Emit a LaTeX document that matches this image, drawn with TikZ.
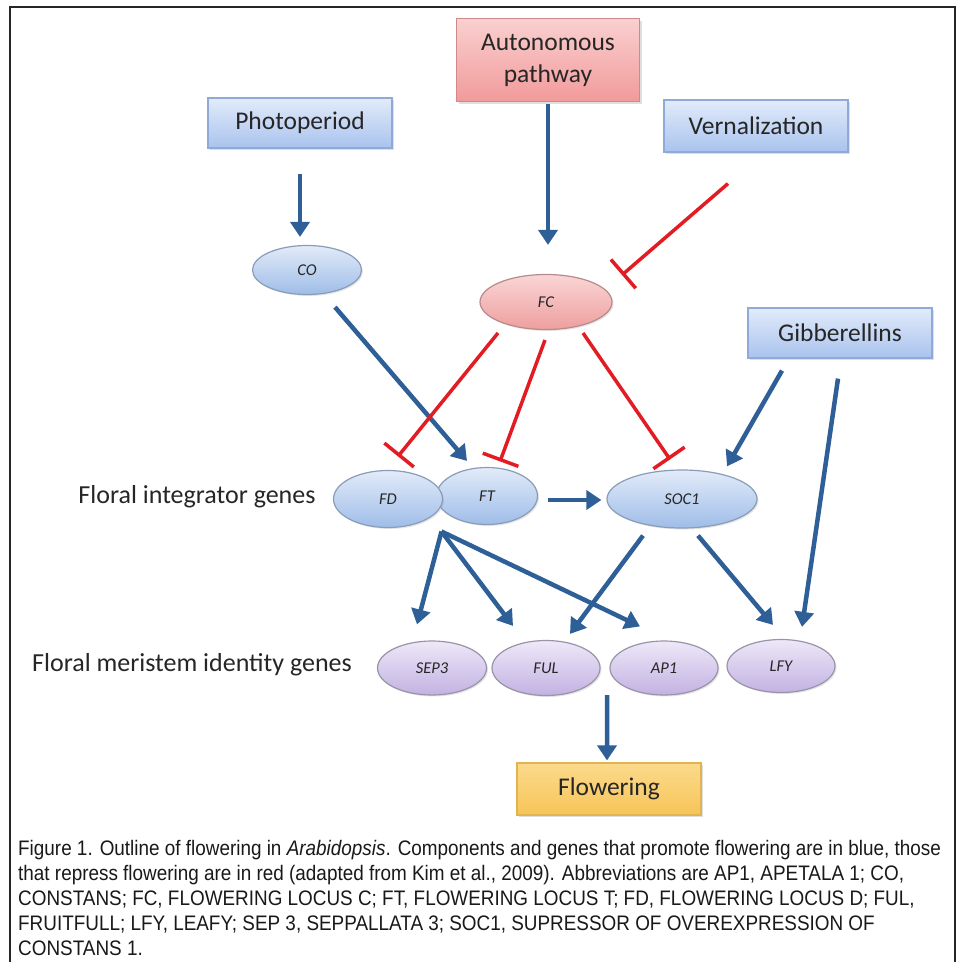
\documentclass[tikz,border=0pt]{standalone}
\usepackage{fontspec}
\setmainfont{Carlito}
\newfontfamily\capfont[FakeStretch=0.9]{Liberation Sans}
\usetikzlibrary{shapes.geometric,arrows.meta,calc,shadows}
\definecolor{bbtop}{HTML}{E2EBFA}
\definecolor{bbbot}{HTML}{A9C3EE}
\definecolor{bbdraw}{HTML}{8FAAD6}
\definecolor{rbtop}{HTML}{FAD0D0}
\definecolor{rbbot}{HTML}{F29A9A}
\definecolor{rbdraw}{HTML}{D08888}
\definecolor{gbtop}{HTML}{E2EBF9}
\definecolor{gbbot}{HTML}{9FBDE8}
\definecolor{gbdraw}{HTML}{8A9DB8}
\definecolor{grtop}{HTML}{FAD6D6}
\definecolor{grbot}{HTML}{EE9E9E}
\definecolor{grdraw}{HTML}{B88A8A}
\definecolor{gptop}{HTML}{EEE8F8}
\definecolor{gpbot}{HTML}{C2B2E2}
\definecolor{gpdraw}{HTML}{9A94A8}
\definecolor{fltop}{HTML}{FBDA8C}
\definecolor{flbot}{HTML}{F7C558}
\definecolor{fldraw}{HTML}{E2B450}
\definecolor{arrblue}{HTML}{2E5F97}
\definecolor{inhred}{HTML}{E31C23}
\definecolor{txt}{HTML}{262626}
\begin{document}
\begin{tikzpicture}[x=1pt,y=-1pt,
  boxbase/.style={rectangle, inner sep=0pt, line width=1.2pt, text=txt,
    font=\fontsize{25.5}{32}\selectfont, align=center,
    drop shadow={opacity=0.25, shadow xshift=2pt, shadow yshift=-2pt}},
  bluebox/.style={boxbase, draw=bbdraw, top color=bbtop, bottom color=bbbot,
    minimum width=184pt, minimum height=50pt},
  redbox/.style={boxbase, draw=rbdraw, top color=rbtop, bottom color=rbbot,
    minimum width=183pt, minimum height=83pt},
  flowbox/.style={boxbase, draw=fldraw, top color=fltop, bottom color=flbot,
    minimum width=184pt, minimum height=52pt},
  gene/.style={ellipse, inner sep=0pt, line width=1.2pt, text=txt,
    font=\fontsize{16.5}{20}\selectfont\itshape,
    drop shadow={opacity=0.2, shadow xshift=1.5pt, shadow yshift=-1.5pt}},
  bgene/.style={gene, draw=gbdraw, top color=gbtop, bottom color=gbbot},
  rgene/.style={gene, draw=grdraw, top color=grtop, bottom color=grbot},
  pgene/.style={gene, draw=gpdraw, top color=gptop, bottom color=gpbot},
  lvl/.style={text=txt, font=\fontsize{26}{32}\selectfont, inner sep=0pt},
  arr/.style={draw=arrblue, line width=4.5pt, -{Triangle[width=19pt,length=15pt]}},
  inh/.style={draw=inhred, line width=3.5pt, -{Bar[width=38pt]}}
]
\useasboundingbox (0,0) rectangle (962,962);
\fill[white] (0,0) rectangle (962,962);
\draw[line width=2pt, color=black!85] (10,980) -- (10,7) -- (955,7) -- (955,980);

% boxes
\node[redbox] (auton) at (548,60) {Autonomous\\pathway};
\node[bluebox] (photo) at (300,123) {Photoperiod};
\node[bluebox, minimum height=52pt] (vern) at (756,126) {Vernalization};
\node[bluebox] (gibb) at (840,333) {Gibberellins};
\node[flowbox] (flow) at (609,789) {Flowering};

% genes
\node[bgene, minimum width=109pt, minimum height=49pt] (co) at (307,270) {CO};
\node[rgene, minimum width=132pt, minimum height=55pt] (fc) at (546,302) {FC};
\node[bgene, minimum width=101pt, minimum height=57pt] (ft) at (487,496) {FT};
\node[bgene, minimum width=109pt, minimum height=57pt] (fd) at (388,499) {FD};
\node[bgene, minimum width=150pt, minimum height=58pt] (soc) at (682,499) {SOC1};
\node[pgene, minimum width=109pt, minimum height=54pt] (sep) at (432,668) {SEP3};
\node[pgene, minimum width=108pt, minimum height=55pt] (ful) at (546,668) {FUL};
\node[pgene, minimum width=108pt, minimum height=54pt] (ap) at (664,668) {AP1};
\node[pgene, minimum width=108pt, minimum height=53pt] (lfy) at (781,666) {LFY};

% level labels
\node[lvl] (lab1) at (197,497) {Floral integrator genes};
\node[lvl] (lab2) at (192,665) {Floral meristem identity genes};

% promoting arrows
\draw[arr] ($(photo.south)+(0,25)$) -- ($(co.north)+(-7,-8)$);
\draw[arr] ($(auton.south)+(0,2)$) -- ($(fc.north)+(2,-29)$);
\draw[arr] ($(co.south)+(28,12)$) -- ($(ft.north)+(-20,-6)$);
\draw[arr] ($(ft.east)+(10,4)$) -- ($(soc.west)+(-5,1)$);
\draw[arr] ($(gibb.south)+(-58,12)$) -- ($(soc.north)+(45,-3)$);
\draw[arr] ($(gibb.south)+(-2,20)$) -- ($(lfy.north)+(21,-12)$);
\coordinate (j) at ($(fd.east)!0.5!(ft.west)+(2,34)$);
\draw[arr] (j) -- ($(sep.north)+(-15,-16)$);
\draw[arr] (j) -- ($(ful.north)+(-33,-14)$);
\draw[arr] (j) -- ($(ap.north)+(-24,-14)$);
\draw[arr] ($(soc.south)+(-39,7)$) -- ($(ful.north)+(24,-6)$);
\draw[arr] ($(soc.south)+(16,7)$) -- ($(lfy.north)+(-8,-14)$);
\coordinate (k) at ($(ful.east)!0.5!(ap.west)+(2,27)$);
\draw[arr] (k) -- ($(flow.north)+(-2,-2)$);

% repressing connectors
\draw[inh] ($(vern.south)+(-28,31)$) -- ($(fc.center)+(76,-27)$);
\draw[inh] ($(fc.center)+(-48,31)$) -- ($(fd.north)+(10,-13.5)$);
\draw[inh] ($(fc.center)+(-1,38)$) -- ($(ft.north)+(13,-5.5)$);
\draw[inh] ($(fc.center)+(37,31)$) -- ($(soc.north)+(-12,-10)$);

% caption
\node[anchor=north west, inner sep=0pt, align=left, text=black!90,
  font=\capfont\fontsize{21}{25}\selectfont] (cap) at (18,840)
{Figure 1. Outline of flowering in \textit{Arabidopsis}. Components and genes that promote flowering are in blue, those\\
that repress flowering are in red (adapted from Kim et al., 2009). Abbreviations are AP1, APETALA 1; CO,\\
CONSTANS; FC, FLOWERING LOCUS C; FT, FLOWERING LOCUS T; FD, FLOWERING LOCUS D; FUL,\\
FRUITFULL; LFY, LEAFY; SEP 3, SEPPALLATA 3; SOC1, SUPRESSOR OF OVEREXPRESSION OF\\
CONSTANS 1.};
\end{tikzpicture}
\end{document}
